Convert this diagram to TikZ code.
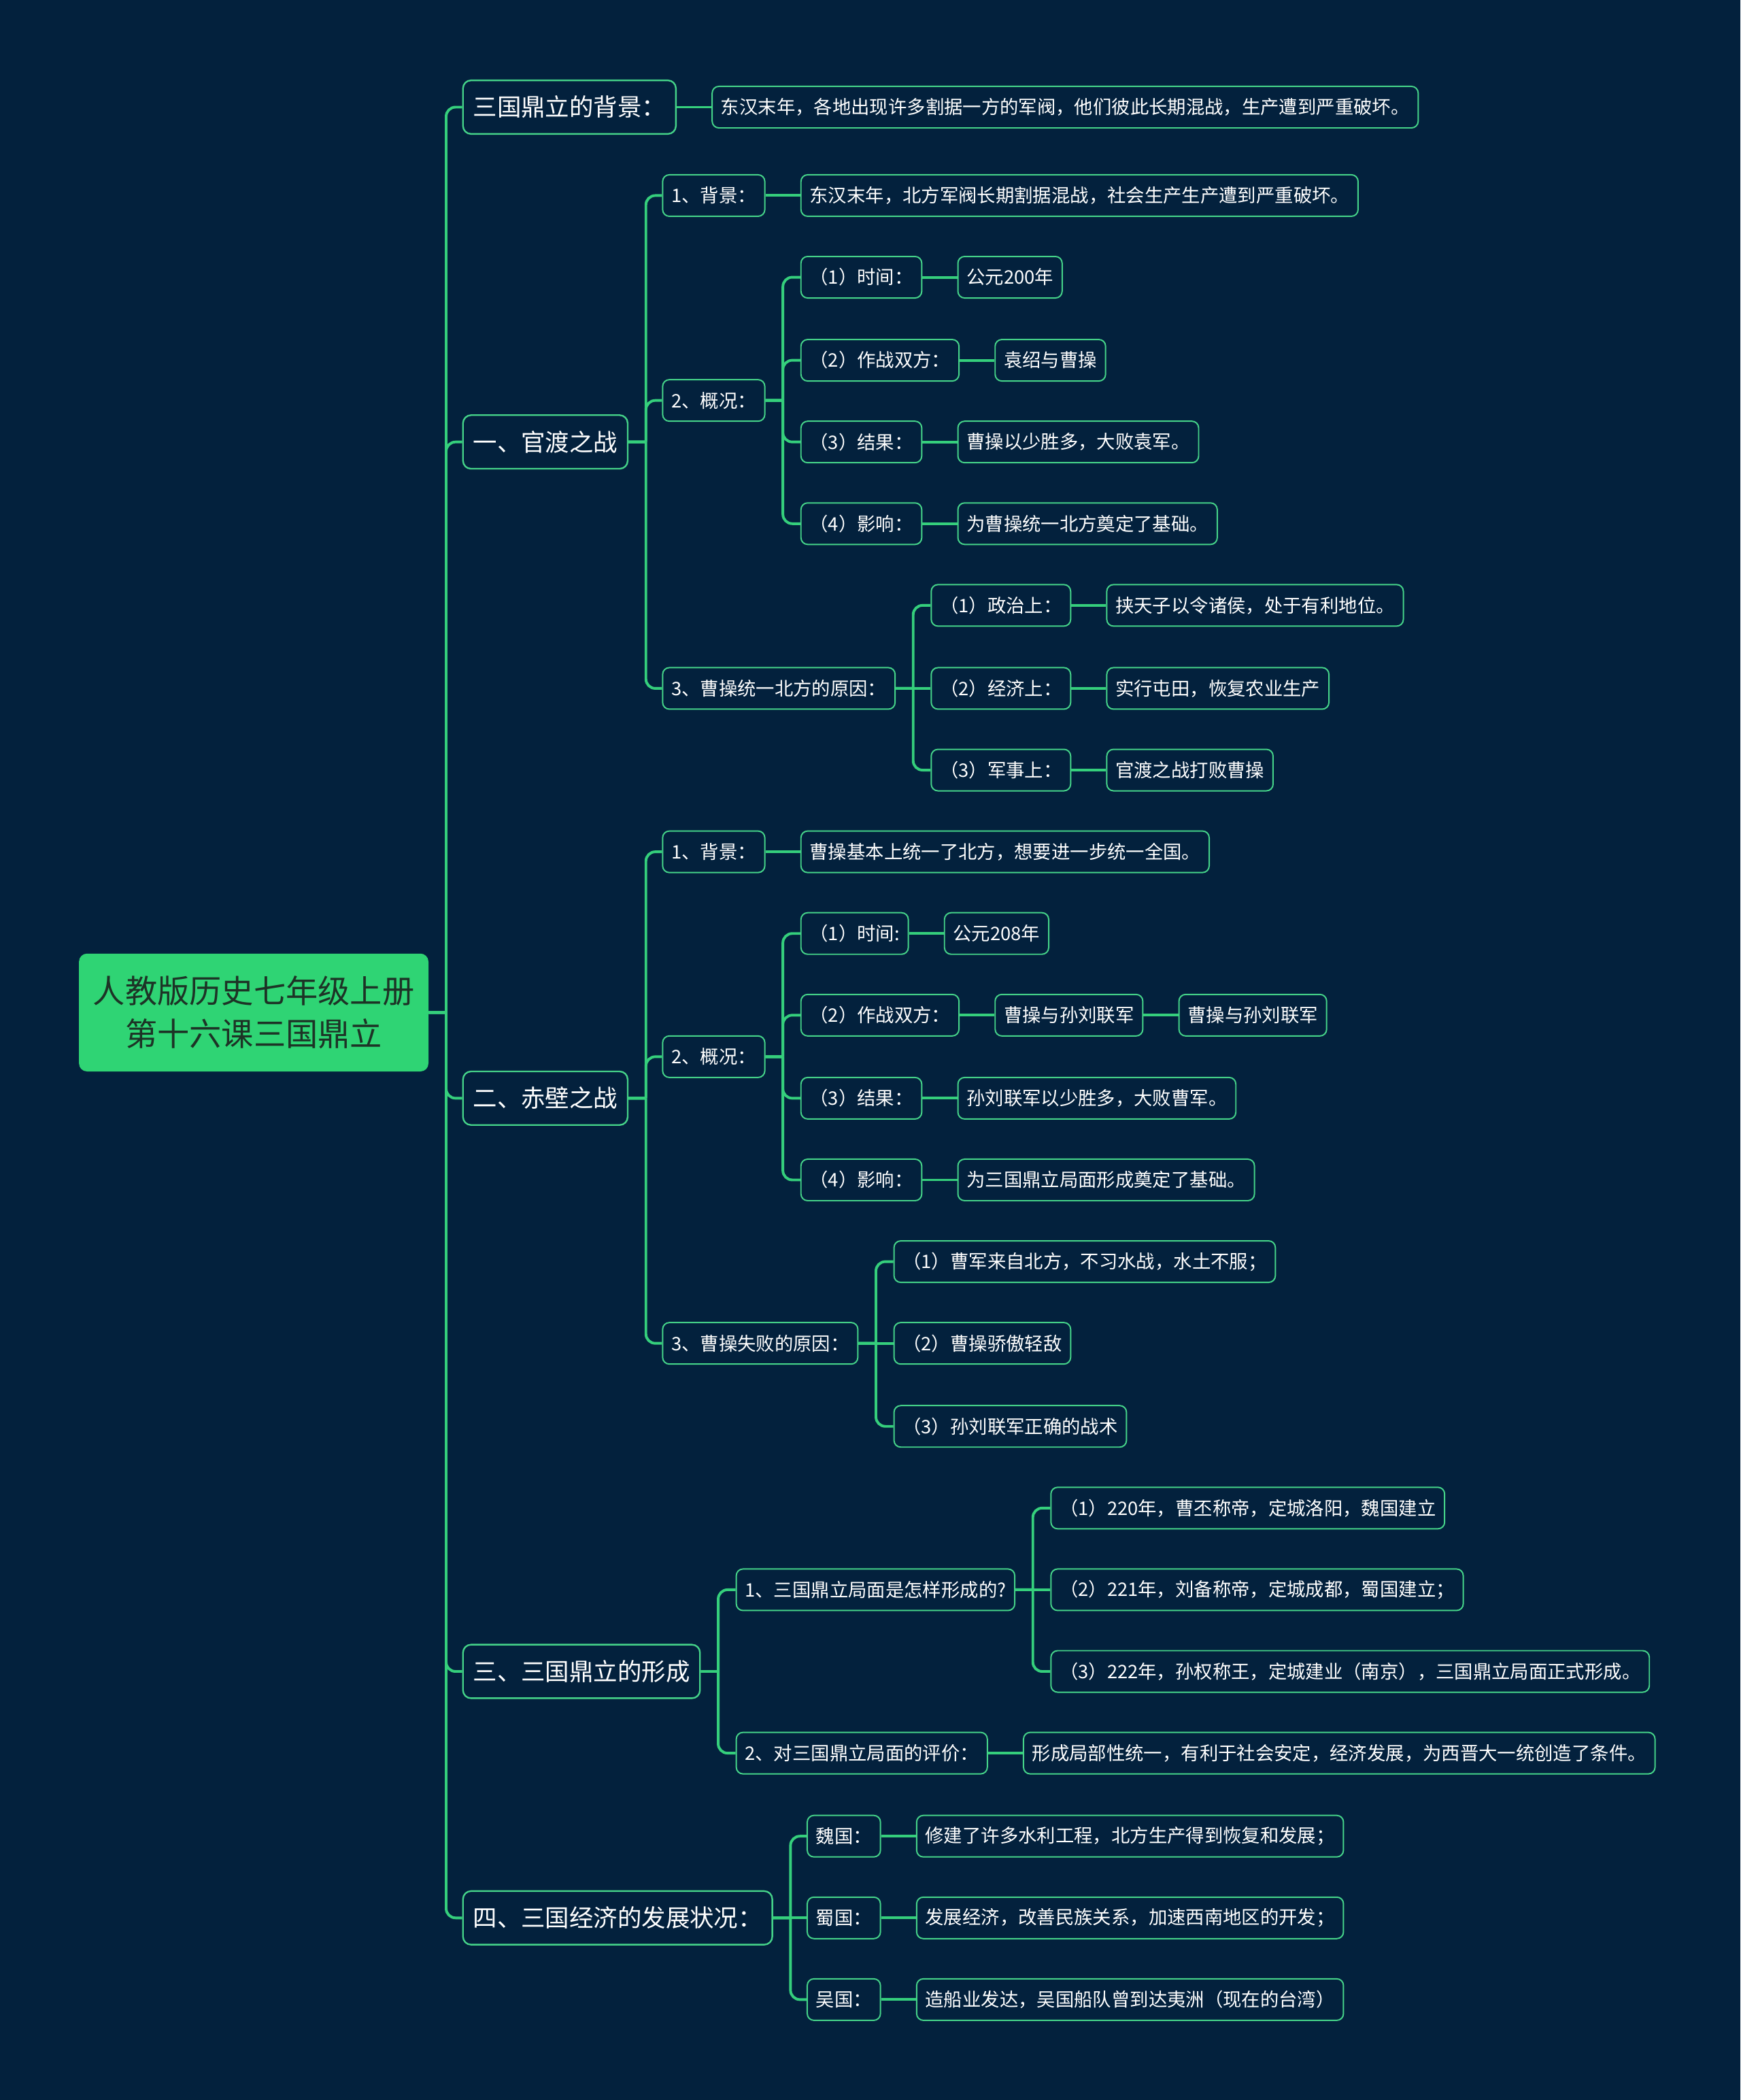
\documentclass[tikz,border=0pt]{standalone}
\usepackage{fontspec}
\setmainfont{Noto Sans CJK SC}
\usetikzlibrary{positioning}
\definecolor{bg}{HTML}{03213D}
\definecolor{wire}{HTML}{35CF7C}
\definecolor{rim}{HTML}{45D389}
\definecolor{rootfill}{HTML}{2FD474}
\definecolor{rootink}{HTML}{1D3326}
\tikzset{
  root/.style={fill=rootfill, rounded corners=6pt, text=rootink, align=center,
               font=\fontsize{24pt}{32pt}\selectfont, minimum width=261pt,
               minimum height=88pt, inner sep=0pt},
  topic/.style={draw=rim, line width=1.2pt, fill=bg, rounded corners=6pt, text=white,
                font=\fontsize{18pt}{22pt}\selectfont, minimum height=40pt,
                inner xsep=7.5pt, inner ysep=0pt, anchor=west},
  item/.style={draw=rim, line width=1pt, fill=bg, rounded corners=5pt, text=white,
               font=\fontsize{13.9pt}{17pt}\selectfont, minimum height=31pt,
               inner xsep=6.5pt, inner ysep=0pt, anchor=west},
  % ---- elbow connectors: stub to the trunk, then round the corner ----
  link/.style={draw=wire, line width=2pt, rounded corners=7pt,
    to path={(\tikztostart) -- ++(13,0) (\tikztostart) ++(13,0) |- (\tikztotarget)}},
  pair/.style={draw=wire, line width=2pt},
}

\begin{document}
\begin{tikzpicture}[x=1pt,y=-1pt]
\fill[bg] (0,0) rectangle (1300,1568);
\useasboundingbox (0,0) rectangle (1300,1568);
% root
\node[root] (root) at (189.5,756) {人教版历史七年级上册\\第十六课三国鼎立};
% background
\node[topic] (t0) at ([xshift=25pt]root.east |- 0,80) {三国鼎立的背景：};
\node[item, right=26pt of t0] (t0a) {东汉末年，各地出现许多割据一方的军阀，他们彼此长期混战，生产遭到严重破坏。};
% guandu
\node[topic] (t1) at ([xshift=25pt]root.east |- 0,330) {一、官渡之战};
\node[item] (g1) at ([xshift=25pt]t1.east |- 0,146) {1、背景：};
\node[item, right=26pt of g1] (g1a) {东汉末年，北方军阀长期割据混战，社会生产生产遭到严重破坏。};
\node[item] (g2) at ([xshift=25pt]t1.east |- 0,299) {2、概况：};
\node[item] (g21) at ([xshift=26pt]g2.east |- 0,207) {（1）时间：};
\node[item, right=26pt of g21] (g21a) {公元200年};
\node[item] (g22) at ([xshift=26pt]g2.east |- 0,269) {（2）作战双方：};
\node[item, right=26pt of g22] (g22a) {袁绍与曹操};
\node[item] (g23) at ([xshift=26pt]g2.east |- 0,330) {（3）结果：};
\node[item, right=26pt of g23] (g23a) {曹操以少胜多，大败袁军。};
\node[item] (g24) at ([xshift=26pt]g2.east |- 0,391) {（4）影响：};
\node[item, right=26pt of g24] (g24a) {为曹操统一北方奠定了基础。};
\node[item] (g3) at ([xshift=25pt]t1.east |- 0,514) {3、曹操统一北方的原因：};
\node[item] (g31) at ([xshift=26pt]g3.east |- 0,452) {（1）政治上：};
\node[item, right=26pt of g31] (g31a) {挟天子以令诸侯，处于有利地位。};
\node[item] (g32) at ([xshift=26pt]g3.east |- 0,514) {（2）经济上：};
\node[item, right=26pt of g32] (g32a) {实行屯田，恢复农业生产};
\node[item] (g33) at ([xshift=26pt]g3.east |- 0,575) {（3）军事上：};
\node[item, right=26pt of g33] (g33a) {官渡之战打败曹操};
% chibi
\node[topic] (t2) at ([xshift=25pt]root.east |- 0,820) {二、赤壁之战};
\node[item] (c1) at ([xshift=25pt]t2.east |- 0,636) {1、背景：};
\node[item, right=26pt of c1] (c1a) {曹操基本上统一了北方，想要进一步统一全国。};
\node[item] (c2) at ([xshift=25pt]t2.east |- 0,789) {2、概况：};
\node[item] (c21) at ([xshift=26pt]c2.east |- 0,697) {（1）时间:};
\node[item, right=26pt of c21] (c21a) {公元208年};
\node[item] (c22) at ([xshift=26pt]c2.east |- 0,758) {（2）作战双方：};
\node[item, right=26pt of c22] (c22a) {曹操与孙刘联军};
\node[item, right=26pt of c22a] (c22b) {曹操与孙刘联军};
\node[item] (c23) at ([xshift=26pt]c2.east |- 0,820) {（3）结果：};
\node[item, right=26pt of c23] (c23a) {孙刘联军以少胜多，大败曹军。};
\node[item] (c24) at ([xshift=26pt]c2.east |- 0,881) {（4）影响：};
\node[item, right=26pt of c24] (c24a) {为三国鼎立局面形成奠定了基础。};
\node[item] (c3) at ([xshift=25pt]t2.east |- 0,1003) {3、曹操失败的原因：};
\node[item] (c31) at ([xshift=26pt]c3.east |- 0,942) {（1）曹军来自北方，不习水战，水土不服；};
\node[item] (c32) at ([xshift=26pt]c3.east |- 0,1003) {（2）曹操骄傲轻敌};
\node[item] (c33) at ([xshift=26pt]c3.east |- 0,1065) {（3）孙刘联军正确的战术};
% forming
\node[topic] (t3) at ([xshift=25pt]root.east |- 0,1248) {三、三国鼎立的形成};
\node[item] (s1) at ([xshift=26pt]t3.east |- 0,1187) {1、三国鼎立局面是怎样形成的?};
\node[item] (s11) at ([xshift=26pt]s1.east |- 0,1126) {（1）220年，曹丕称帝，定城洛阳，魏国建立};
\node[item] (s12) at ([xshift=26pt]s1.east |- 0,1187) {（2）221年，刘备称帝，定城成都，蜀国建立；};
\node[item] (s13) at ([xshift=26pt]s1.east |- 0,1248) {（3）222年，孙权称王，定城建业（南京），三国鼎立局面正式形成。};
\node[item] (s2) at ([xshift=26pt]t3.east |- 0,1309) {2、对三国鼎立局面的评价：};
\node[item, right=26pt of s2] (s2a) {形成局部性统一，有利于社会安定，经济发展，为西晋大一统创造了条件。};
% economy
\node[topic] (t4) at ([xshift=25pt]root.east |- 0,1432) {四、三国经济的发展状况：};
\node[item] (e1) at ([xshift=25pt]t4.east |- 0,1371) {魏国：};
\node[item, right=26pt of e1] (e1a) {修建了许多水利工程，北方生产得到恢复和发展；};
\node[item] (e2) at ([xshift=25pt]t4.east |- 0,1432) {蜀国：};
\node[item, right=26pt of e2] (e2a) {发展经济，改善民族关系，加速西南地区的开发；};
\node[item] (e3) at ([xshift=25pt]t4.east |- 0,1493) {吴国：};
\node[item, right=26pt of e3] (e3a) {造船业发达，吴国船队曾到达夷洲（现在的台湾）};
% branches
\foreach \c in {t0,t1,t2,t3,t4}{ \draw[link] (root.east) to (\c.west); }
\foreach \c in {g1,g2,g3}{ \draw[link] (t1.east) to (\c.west); }
\foreach \c in {g21,g22,g23,g24}{ \draw[link] (g2.east) to (\c.west); }
\foreach \c in {g31,g33}{ \draw[link] (g3.east) to (\c.west); }
\foreach \c in {c1,c2,c3}{ \draw[link] (t2.east) to (\c.west); }
\foreach \c in {c21,c22,c23,c24}{ \draw[link] (c2.east) to (\c.west); }
\foreach \c in {c31,c33}{ \draw[link] (c3.east) to (\c.west); }
\foreach \c in {s1,s2}{ \draw[link] (t3.east) to (\c.west); }
\foreach \c in {s11,s13}{ \draw[link] (s1.east) to (\c.west); }
\foreach \c in {e1,e3}{ \draw[link] (t4.east) to (\c.west); }
% straight runs
\foreach \a/\b in {t0/t0a,g1/g1a,g21/g21a,g22/g22a,g23/g23a,g24/g24a,g3/g32,
                   g31/g31a,g32/g32a,g33/g33a,c1/c1a,c21/c21a,c22/c22a,c22a/c22b,
                   c23/c23a,c24/c24a,c3/c32,s1/s12,s2/s2a,t4/e2,e1/e1a,e2/e2a,e3/e3a}
  { \draw[pair] (\a) -- (\b); }
\end{tikzpicture}
\end{document}
